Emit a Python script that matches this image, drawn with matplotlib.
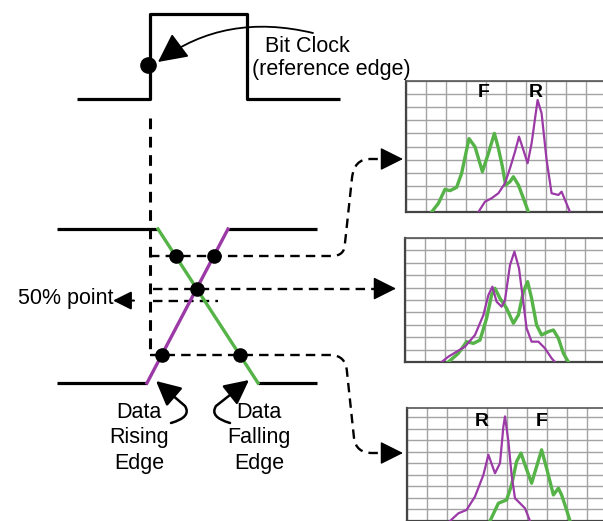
import numpy as np
import matplotlib.pyplot as plt
from matplotlib.patches import FancyArrowPatch, PathPatch
from matplotlib.path import Path

plt.rcParams['font.family'] = ['Liberation Sans', 'DejaVu Sans']

W, H = 603, 521
GREEN = '#55b347'
PURPLE = '#9b3aa6'

# --- schematic, laid out in pixel units (y grows downward) ---
clock_x = [77, 150, 150, 247, 247, 340]
clock_y = [99, 99, 14, 14, 99, 99]
clock_dot = (148, 65)

data_hi, data_lo = 229, 383
rise_x = [147, 228]          # purple edge: bottom -> top
fall_x = [158, 258]          # green edge: top -> bottom
line_left, line_right = 57, 317
ref_x = 150                  # clock reference edge projected down
upper_level, lower_level = 256, 355

# --- measured edge distributions (grid units of each scope panel) ---
p1_fall_x = [1.28, 1.62, 1.95, 2.2, 2.53, 2.78, 3.15, 3.45, 3.82, 4.12, 4.42, 4.62, 4.82, 4.98, 5.2, 5.37, 5.62, 5.87, 6.12]
p1_fall_y = [0.0, 0.66, 1.73, 1.63, 1.88, 2.95, 5.6, 4.98, 3.08, 4.48, 6.0, 4.86, 3.46, 2.06, 2.31, 2.69, 2.06, 1.05, 0.0]
p1_rise_x = [3.62, 3.95, 4.28, 4.62, 4.95, 5.2, 5.45, 5.65, 5.87, 6.08, 6.28, 6.58, 6.78, 7.03, 7.28, 7.62, 7.78, 7.95, 8.2]
p1_rise_y = [0.0, 0.79, 1.05, 1.43, 2.19, 3.34, 4.6, 5.75, 4.73, 3.72, 5.24, 8.55, 7.53, 3.97, 1.43, 1.3, 1.55, 0.92, 0.0]

p2_rise_x = [1.83, 2.17, 2.58, 3.0, 3.5, 3.92, 4.17, 4.37, 4.58, 4.83, 5.0, 5.25, 5.47, 5.7, 5.87, 6.08, 6.33, 6.67, 7.0, 7.33, 7.5]
p2_rise_y = [0.0, 0.43, 0.83, 1.24, 2.18, 3.79, 5.4, 6.07, 4.86, 4.46, 5.0, 7.82, 8.9, 7.56, 5.4, 2.72, 1.64, 1.64, 1.1, 0.3, 0.0]
p2_fall_x = [2.17, 2.67, 3.08, 3.42, 3.75, 4.08, 4.33, 4.5, 4.75, 5.08, 5.42, 5.67, 5.92, 6.13, 6.33, 6.58, 6.83, 7.17, 7.42, 7.67, 7.92, 8.17]
p2_fall_y = [0.0, 0.7, 1.64, 1.5, 1.77, 3.52, 5.4, 5.94, 5.13, 4.33, 3.12, 3.79, 5.67, 6.48, 5.13, 2.98, 2.18, 2.45, 2.58, 1.91, 0.7, 0.0]

p3_rise_x = [2.15, 2.57, 2.98, 3.4, 3.82, 4.07, 4.4, 4.65, 4.82, 4.9, 5.07, 5.23, 5.4, 5.65, 5.9, 6.15]
p3_rise_y = [0.0, 0.67, 0.96, 2.12, 4.0, 5.74, 4.14, 5.01, 8.2, 9.07, 6.9, 4.0, 1.97, 1.54, 1.1, 0.0]
p3_fall_x = [4.15, 4.57, 4.98, 5.23, 5.48, 5.7, 5.93, 6.23, 6.48, 6.73, 6.98, 7.32, 7.57, 7.73, 7.98, 8.15]
p3_fall_y = [0.0, 1.54, 1.83, 3.13, 5.16, 5.89, 4.72, 3.28, 4.72, 6.17, 4.58, 2.26, 2.84, 2.26, 0.96, 0.0]

fig = plt.figure(figsize=(W / 100, H / 100), dpi=100)
ax = fig.add_axes([0, 0, 1, 1])
ax.set_xlim(0, W)
ax.set_ylim(H, 0)
ax.axis('off')

FS = 15.5
black = dict(color='black', lw=2.3, solid_capstyle='butt')

# bit clock
ax.plot(clock_x, clock_y, **black)
ax.scatter(*clock_dot, s=120, color='black', zorder=5)
ax.text(307, 47, 'Bit Clock', fontsize=FS, ha='center', va='center')
ax.text(331, 70, '(reference edge)', fontsize=FS, ha='center', va='center')
clk_path = Path([(313, 33), (225, 12), (158, 62)], [Path.MOVETO, Path.CURVE3, Path.CURVE3])
ax.add_patch(FancyArrowPatch(path=clk_path, arrowstyle='-|>,head_length=1.0,head_width=0.5',
                             mutation_scale=18, color='black', lw=1.3))

# data levels and edges
ax.plot([line_left, rise_x[0]], [data_lo, data_lo], **black)
ax.plot([line_left, fall_x[0]], [data_hi, data_hi], **black)
ax.plot([rise_x[1], line_right], [data_hi, data_hi], **black)
ax.plot([fall_x[1], line_right], [data_lo, data_lo], **black)
ax.plot(rise_x, [data_lo, data_hi], color=PURPLE, lw=2.4, zorder=3)
ax.plot(fall_x, [data_hi, data_lo], color=GREEN, lw=2.4, zorder=3)

# crossing points on both edges
def on_rise(y):
    return np.interp(y, [data_hi, data_lo], rise_x[::-1])

def on_fall(y):
    return np.interp(y, [data_hi, data_lo], fall_x)

t = (fall_x[0] - rise_x[0] + (fall_x[1] - fall_x[0])) / ((rise_x[1] - rise_x[0]) + (fall_x[1] - fall_x[0]))
mid_y = data_lo - t * (data_lo - data_hi)
mid_x = on_rise(mid_y)
dots_x = [on_fall(upper_level), on_rise(upper_level), mid_x, on_rise(lower_level), on_fall(lower_level)]
dots_y = [upper_level, upper_level, mid_y, lower_level, lower_level]
ax.scatter(dots_x, dots_y, s=90, color='black', zorder=5)

dash = dict(color='black', lw=1.7, linestyle=(0, (4, 2.6)))
ax.plot([ref_x, ref_x], [118, lower_level], color='black', lw=2.2, linestyle=(0, (3.5, 2.5)))
ax.plot([ref_x + 3, 385], [mid_y, mid_y], **dash)
ax.plot([ref_x + 3, 218], [mid_y + 12, mid_y + 12], **dash)

upper = Path([(ref_x, upper_level), (332, upper_level), (345, upper_level), (345, 243),
              (352, 178), (354, 159), (370, 159), (390, 159)],
             [Path.MOVETO, Path.LINETO, Path.CURVE3, Path.CURVE3, Path.LINETO, Path.CURVE3, Path.CURVE3, Path.LINETO])
lower = Path([(ref_x, lower_level), (330, lower_level), (346, lower_level), (347, 372),
              (354, 438), (356, 453), (372, 453), (390, 453)],
             [Path.MOVETO, Path.LINETO, Path.CURVE3, Path.CURVE3, Path.LINETO, Path.CURVE3, Path.CURVE3, Path.LINETO])
for p in (upper, lower):
    ax.add_patch(PathPatch(p, fill=False, **dash))

head = dict(arrowstyle='-|>,head_length=0.9,head_width=0.45', mutation_scale=16,
            color='black', lw=1, shrinkA=0, shrinkB=0)
for tip_x, tip_y in [(403, 159), (396, mid_y), (403, 453)]:
    ax.annotate('', xy=(tip_x, tip_y), xytext=(tip_x - 14, tip_y), arrowprops=head)

# 50% point marker
ax.annotate('', xy=(113, mid_y + 12), xytext=(134, mid_y + 12),
            arrowprops=dict(arrowstyle='-|>,head_length=0.8,head_width=0.4', mutation_scale=14,
                            color='black', lw=1.5, shrinkA=0, shrinkB=0))
ax.text(113, mid_y + 10, '50% point', fontsize=FS, ha='right', va='center')

# edge labels
for i, word in enumerate(['Data', 'Rising', 'Edge']):
    ax.text(139, 413 + 25 * i, word, fontsize=FS, ha='center', va='center')
for i, word in enumerate(['Data', 'Falling', 'Edge']):
    ax.text(259, 413 + 25 * i, word, fontsize=FS, ha='center', va='center')

rise_hook = Path([(171, 423), (192, 417), (185, 406), (156, 381)],
                 [Path.MOVETO, Path.CURVE3, Path.CURVE3, Path.LINETO])
fall_hook = Path([(230, 423), (209, 417), (216, 406), (249, 380)],
                 [Path.MOVETO, Path.CURVE3, Path.CURVE3, Path.LINETO])
for p in (rise_hook, fall_hook):
    ax.add_patch(FancyArrowPatch(path=p, arrowstyle='-|>,head_length=1.0,head_width=0.5',
                                 mutation_scale=15, color='black', lw=1.8))


# --- scope panels ---
def scope(left, top, bottom, rows, rise, fall, labels):
    pax = fig.add_axes([left / W, 1 - bottom / H, 210 / W, (bottom - top) / H])
    pax.set_xlim(0, 10.5)
    pax.set_ylim(0, rows)
    pax.set_xticks(np.arange(0, 11))
    pax.set_yticks(np.arange(0, rows + 0.01))
    pax.tick_params(length=0, labelbottom=False, labelleft=False)
    pax.grid(True, color='#a3a3a3', lw=1.0)
    pax.set_facecolor('white')
    pax.spines['right'].set_visible(False)
    pax.spines['left'].set_color('#444444')
    pax.spines['left'].set_linewidth(1.6)
    pax.spines['bottom'].set_color('#444444')
    pax.spines['bottom'].set_linewidth(1.6)
    pax.spines['top'].set_color('#555555')
    pax.spines['top'].set_linewidth(1.2)
    pax.plot(*fall, color=GREEN, lw=2.4, zorder=3)
    pax.plot(*rise, color=PURPLE, lw=1.6, zorder=4)
    for txt, x, y in labels:
        pax.text(x, y, txt, fontsize=14, fontweight='bold', ha='center', va='center')
    return pax


scope(406, 81, 212, 10, (p1_rise_x, p1_rise_y), (p1_fall_x, p1_fall_y),
      [('F', 3.9, 9.1), ('R', 6.5, 9.1)])
scope(405, 238, 362, 10, (p2_rise_x, p2_rise_y), (p2_fall_x, p2_fall_y), [])
scope(407, 408, 521, 9.8, (p3_rise_x, p3_rise_y), (p3_fall_x, p3_fall_y),
      [('R', 3.75, 8.6), ('F', 6.75, 8.6)])

fig.savefig('out.png', dpi=100)
